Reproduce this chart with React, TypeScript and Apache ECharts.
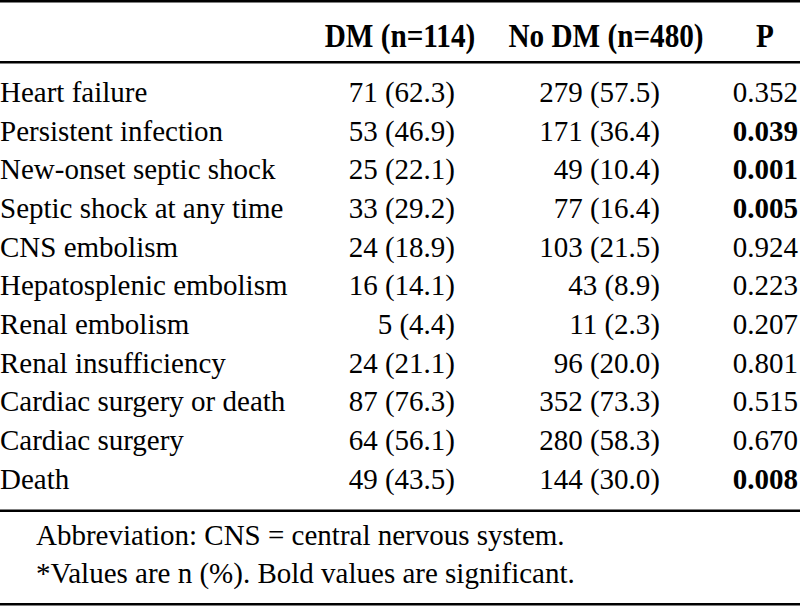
import React, { useEffect, useRef } from "react";
import * as echarts from "echarts";

const headers = ["DM (n=114)", "No DM (n=480)", "P"];
const outcomes = [
  "Heart failure",
  "Persistent infection",
  "New-onset septic shock",
  "Septic shock at any time",
  "CNS embolism",
  "Hepatosplenic embolism",
  "Renal embolism",
  "Renal insufficiency",
  "Cardiac surgery or death",
  "Cardiac surgery",
  "Death",
];
const dmN = [71, 53, 25, 33, 24, 16, 5, 24, 87, 64, 49];
const dmPct = ["62.3", "46.9", "22.1", "29.2", "18.9", "14.1", "4.4", "21.1", "76.3", "56.1", "43.5"];
const noDmN = [279, 171, 49, 77, 103, 43, 11, 96, 352, 280, 144];
const noDmPct = ["57.5", "36.4", "10.4", "16.4", "21.5", "8.9", "2.3", "20.0", "73.3", "58.3", "30.0"];
const pValues = ["0.352", "0.039", "0.001", "0.005", "0.924", "0.223", "0.207", "0.801", "0.515", "0.670", "0.008"];
const significant = [false, true, true, true, false, false, false, false, false, false, true];
const footnotes = [
  "Abbreviation: CNS = central nervous system.",
  "*Values are n (%). Bold values are significant.",
];

const FONT = "'Liberation Serif', 'Times New Roman', serif";
const FS = 29;

export default function App() {
  const ref = useRef<HTMLDivElement>(null);
  useEffect(() => {
    document.body.style.margin = "0";
    const chart = echarts.init(ref.current!, null, { renderer: "svg" });
    const els: any[] = [];
    const txt = (x: number, y: number, text: string, align: string, bold = false, size = FS, sx = 1) => ({
      type: "text",
      x,
      y,
      scaleX: sx,
      style: {
        text,
        fill: "#000",
        font: `${bold ? "bold " : ""}${size}px ${FONT}`,
        align,
        verticalAlign: "middle",
      },
    });
    const hline = (y: number, h: number) => ({
      type: "rect",
      shape: { x: 0, y, width: 800, height: h },
      style: { fill: "#000" },
    });
    const off = 9.5;
    // header (condensed bold)
    els.push(hline(0, 2.5));
    els.push(txt(400, 47 - 11, headers[0], "center", true, 34, 0.86));
    els.push(txt(606, 47 - 11, headers[1], "center", true, 34, 0.86));
    els.push(txt(765, 47 - 11, headers[2], "center", true, 34, 0.86));
    els.push(hline(61, 2.5));
    const rowH = 38.65;
    outcomes.forEach((name, i) => {
      const y = 101.5 + rowH * i - off;
      els.push(txt(0, y, name, "left"));
      els.push(txt(455, y, `${dmN[i]} (${dmPct[i]})`, "right"));
      els.push(txt(660, y, `${noDmN[i]} (${noDmPct[i]})`, "right"));
      els.push(txt(798, y, pValues[i], "right", significant[i]));
    });
    els.push(hline(509.5, 2.5));
    footnotes.forEach((f, i) => {
      els.push(txt(36, 544 + 38 * i - off, f, "left"));
    });
    els.push(hline(603, 2.5));
    chart.setOption({ animation: false, graphic: { elements: els } });
    return () => chart.dispose();
  }, []);
  return <div ref={ref} style={{ width: 800, height: 606, background: "#fff" }} />;
}
